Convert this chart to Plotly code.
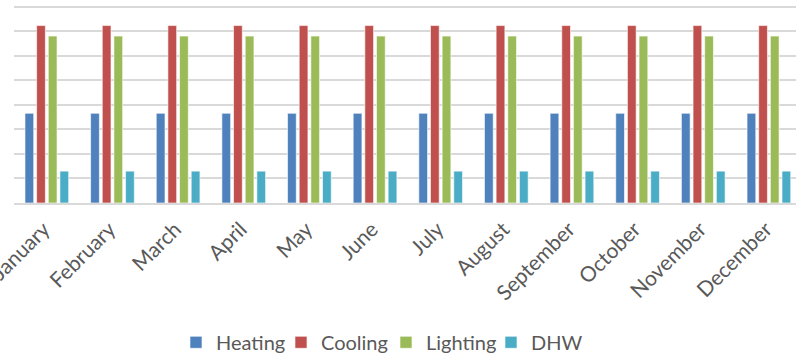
import plotly.graph_objects as go

months = ["January", "February", "March", "April", "May", "June", "July",
          "August", "September", "October", "November", "December"]
heating = [3.66] * 12
cooling = [7.24] * 12
lighting = [6.81] * 12
dhw = [1.30] * 12

series = [
    ("Heating", heating, "#4F81BD"),
    ("Cooling", cooling, "#C0504D"),
    ("Lighting", lighting, "#9BBB59"),
    ("DHW", dhw, "#4BACC6"),
]

fig = go.Figure()
for name, vals, col in series:
    fig.add_trace(go.Bar(x=months, y=vals, name=name,
                         marker=dict(color=col, line=dict(color="rgba(255,255,255,0.6)", width=1))))

W, H = 796, 358
ml, mr, mt, mb = 14, 0, 4, 155
fig.update_layout(
    width=W, height=H,
    margin=dict(l=ml, r=mr, t=mt, b=mb, pad=0, autoexpand=False),
    paper_bgcolor="white", plot_bgcolor="white",
    barmode="group", bargap=0.29, bargroupgap=0.25,
    font=dict(family="Lato, Carlito, Calibri, sans-serif", color="#595959", size=20),
    showlegend=True,
    legend=dict(orientation="h", x=0.4757, xanchor="center", y=-0.70, yanchor="middle",
                font=dict(size=20, color="#595959"), entrywidth=60, entrywidthmode="pixels",
                bgcolor="rgba(0,0,0,0)"),
)
fig.update_xaxes(range=[-0.5, 11.413], tickangle=-45, showgrid=False, showline=True, automargin=False,
                 linecolor="#D9D9D9", linewidth=1.5, ticks="", tickfont=dict(size=21, color="#595959"),
                 ticklabelstandoff=4, ticklabelshift=-3)
fig.update_yaxes(range=[0, 8.12], tickvals=[0, 1, 2, 3, 4, 5, 6, 7, 8], showticklabels=False, showgrid=True,
                 automargin=False, gridcolor="#D9D9D9", gridwidth=1.5, zeroline=False, showline=False)

fig.write_html("out.html", config={"displayModeBar": False},
               post_script="document.body.style.margin='0';document.body.style.padding='0';")
